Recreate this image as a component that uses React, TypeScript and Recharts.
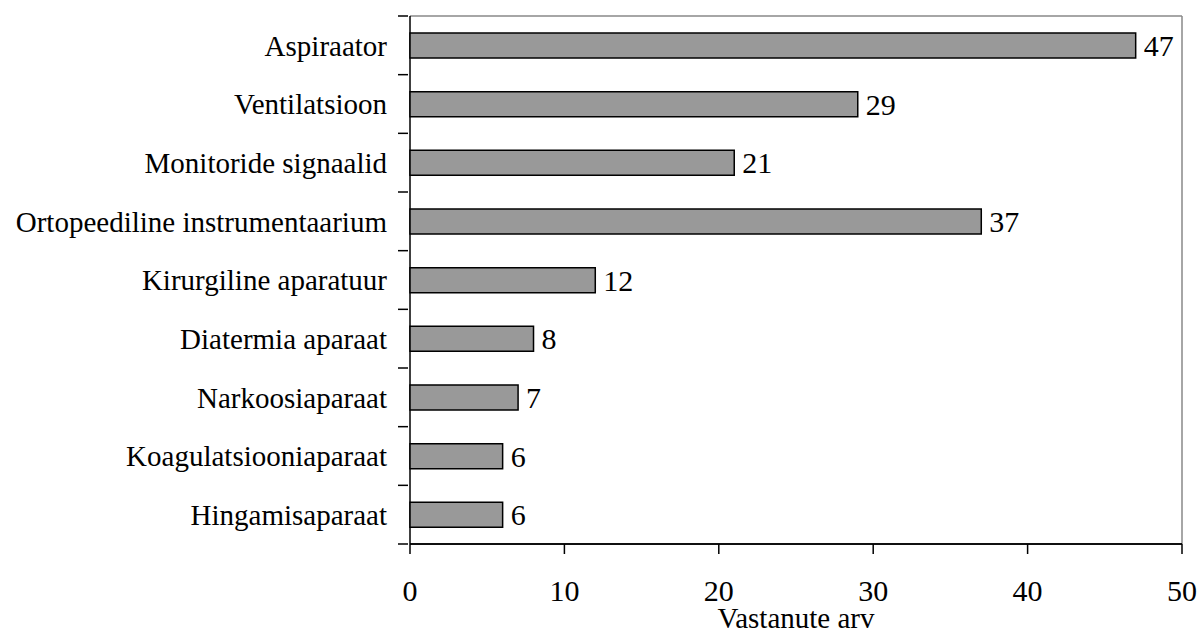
import { BarChart, Bar, XAxis, YAxis, LabelList, CartesianGrid } from "recharts";

const categories = [
  "Aspiraator",
  "Ventilatsioon",
  "Monitoride signaalid",
  "Ortopeediline instrumentaarium",
  "Kirurgiline aparatuur",
  "Diatermia aparaat",
  "Narkoosiaparaat",
  "Koagulatsiooniaparaat",
  "Hingamisaparaat",
];

const respondents = [47, 29, 21, 37, 12, 8, 7, 6, 6];

const xTicks = [0, 10, 20, 30, 40, 50];

const data = categories.map((name, i) => ({ name, value: respondents[i] }));

const serif = "'Liberation Serif', 'Times New Roman', serif";

// category label plus a tick mark on the band boundary above it
function CategoryTick(props: any) {
  const { x, y, payload, index, visibleTicksCount } = props;
  const half = payload && payload.offset ? payload.offset : 29.3;
  const last = index === (visibleTicksCount ?? 9) - 1;
  return (
    <g>
      <line x1={x + 16} x2={x + 26} y1={y - half} y2={y - half} stroke="#000" strokeWidth={1.5} />
      {last && (
        <line x1={x + 16} x2={x + 26} y1={y + half} y2={y + half} stroke="#000" strokeWidth={1.5} />
      )}
      <text
        x={x + 5}
        y={y}
        dy="0.355em"
        textAnchor="end"
        fill="#000"
        fontSize={29}
        fontFamily={serif}
      >
        {payload.value}
      </text>
    </g>
  );
}

// frame edges taken from the plot offset
const topEdge = ({ offset }: any) => [offset.top];
const bottomEdge = ({ offset }: any) => [offset.top + offset.height];
const leftEdge = ({ offset }: any) => [offset.left];
const rightEdge = ({ offset }: any) => [offset.left + offset.width];

export default function App() {
  return (
    <div style={{ position: "absolute", left: 0, top: 0, background: "#fff" }}>
      <BarChart
        width={1201}
        height={633}
        data={data}
        layout="vertical"
        margin={{ top: 16, right: 19, left: 0, bottom: 0 }}
        style={{ fontFamily: serif }}
      >
        <CartesianGrid
          stroke="#888"
          strokeWidth={1.5}
          horizontalCoordinatesGenerator={topEdge}
          verticalCoordinatesGenerator={rightEdge}
        />
        <CartesianGrid
          stroke="#000"
          strokeWidth={1.5}
          horizontalCoordinatesGenerator={bottomEdge}
          verticalCoordinatesGenerator={leftEdge}
        />
        <XAxis
          type="number"
          domain={[0, 50]}
          ticks={xTicks}
          height={89}
          axisLine={{ stroke: "#000", strokeWidth: 1.5 }}
          tickLine={{ stroke: "#000", strokeWidth: 1.5 }}
          tickSize={10}
          tickMargin={26}
          tick={{ fill: "#000", fontSize: 30, fontFamily: serif }}
          label={{
            value: "Vastanute arv",
            position: "insideBottom",
            offset: 5,
            fill: "#000",
            fontSize: 29,
            fontFamily: serif,
          }}
        />
        <YAxis
          type="category"
          dataKey="name"
          width={410}
          axisLine={false}
          tickLine={false}
          tickMargin={22}
          interval={0}
          tick={<CategoryTick />}
        />
        <Bar
          dataKey="value"
          fill="#999999"
          stroke="#000"
          strokeWidth={1.5}
          barSize={25}
          isAnimationActive={false}
        >
          <LabelList
            dataKey="value"
            position="right"
            offset={8}
            fill="#000"
            fontSize={30}
            fontFamily={serif}
          />
        </Bar>
      </BarChart>
    </div>
  );
}
